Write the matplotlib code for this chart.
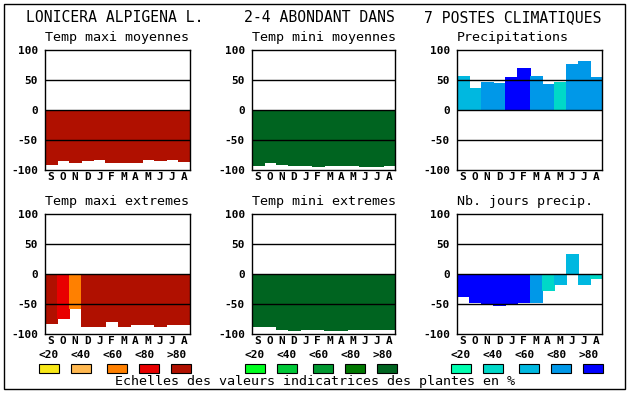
import matplotlib as mpl
mpl.use('Agg')
import matplotlib.pyplot as plt
from matplotlib.patches import Rectangle

W, H = 630, 394

mois = ['S', 'O', 'N', 'D', 'J', 'F', 'M', 'A', 'M', 'J', 'J', 'A']
classes = ['<20', '<40', '<60', '<80', '>80']

# valeurs (negatif = barre sous zero)
tmax_moy = [-90, -84, -86, -84, -81, -86, -87, -87, -81, -84, -82, -85]
tmin_moy = [-92, -87, -90, -92, -92, -93, -92, -92, -92, -93, -93, -92]
precip = [57, 37, 47, 45, 55, 70, 57, 43, 47, 77, 82, 55]
tmax_ext = [-82, -74, -56, -86, -87, -78, -86, -84, -84, -86, -84, -84]
tmin_ext = [-87, -87, -92, -94, -92, -92, -94, -94, -92, -91, -92, -92]
jours_precip = [-37, -46, -50, -52, -50, -46, -46, -27, -16, 34, -17, -7]

# classe de chaque barre (0 : <20 ... 4 : >80)
tmax_moy_cls = [4, 4, 4, 4, 4, 4, 4, 4, 4, 4, 4, 4]
tmin_moy_cls = [4, 4, 4, 4, 4, 4, 4, 4, 4, 4, 4, 4]
precip_cls = [2, 2, 3, 3, 4, 4, 3, 3, 1, 3, 3, 3]
tmax_ext_cls = [4, 3, 2, 4, 4, 4, 4, 4, 4, 4, 4, 4]
tmin_ext_cls = [4, 4, 4, 4, 4, 4, 4, 4, 4, 4, 4, 4]
jours_precip_cls = [4, 4, 4, 4, 4, 4, 3, 1, 2, 2, 2, 1]

rouges = ['#f8e818', '#ffb850', '#ff8000', '#e80000', '#b01000']
verts = ['#00ff20', '#00c838', '#009830', '#007800', '#006420']
bleus = ['#00ffb0', '#00d8c8', '#00b8e0', '#0098e8', '#0000ff']

mono = 'DejaVu Sans Mono'


def fx(x):
    return x / W


def fy(y):
    return 1 - y / H


fig = plt.figure(figsize=(W / 100, H / 100), dpi=100)
fig.patch.set_facecolor('white')

# cadre exterieur
fig.add_artist(Rectangle((fx(4), fy(389)), fx(625) - fx(4), fy(4) - fy(389),
                         transform=fig.transFigure, fill=False,
                         edgecolor='black', linewidth=1))

panneaux = [
    ('Temp maxi moyennes', tmax_moy, tmax_moy_cls, rouges, 45, 190, 50),
    ('Temp mini moyennes', tmin_moy, tmin_moy_cls, verts, 252, 395, 50),
    ('Precipitations', precip, precip_cls, bleus, 457, 602, 50),
    ('Temp maxi extremes', tmax_ext, tmax_ext_cls, rouges, 45, 190, 214),
    ('Temp mini extremes', tmin_ext, tmin_ext_cls, verts, 252, 395, 214),
    ('Nb. jours precip.', jours_precip, jours_precip_cls, bleus, 457, 602, 214),
]

for titre, vals, cls, palette, x0, x1, y0 in panneaux:
    ax = fig.add_axes([fx(x0), fy(y0 + 120), fx(x1) - fx(x0), fy(y0) - fy(y0 + 120)])
    couleurs = [palette[c] for c in cls]
    ax.bar(range(12), vals, width=1.0, color=couleurs, edgecolor=couleurs,
           linewidth=0.6, antialiased=False, zorder=1)
    for g in [-50, 0, 50]:
        ax.axhline(g, color='black', linewidth=1.0, zorder=3)
    ax.set_xlim(-0.5, 11.5)
    ax.set_ylim(-100, 100)
    ax.set_yticks([-100, -50, 0, 50, 100])
    ax.set_yticklabels(['-100', '-50', '0', '50', '100'], fontfamily=mono,
                       fontweight='bold', fontsize=8)
    ax.set_xticks(range(12))
    ax.set_xticklabels(mois, fontfamily=mono, fontweight='bold', fontsize=8)
    ax.tick_params(axis='y', length=0, pad=5)
    ax.tick_params(axis='x', length=0, pad=1.5)
    for s in ax.spines.values():
        s.set_linewidth(1.0)
        s.set_zorder(4)
    fig.text(fx(x0), fy(y0 - 12), titre, fontfamily=mono, fontsize=9.6,
             ha='left', va='center')

# titres du haut
fig.text(fx(26), fy(18), 'LONICERA ALPIGENA L.', fontfamily=mono,
         fontsize=10.6, ha='left', va='center')
fig.text(fx(395), fy(18), '2-4 ABONDANT DANS', fontfamily=mono,
         fontsize=10.6, ha='right', va='center')
fig.text(fx(602), fy(18), '7 POSTES CLIMATIQUES', fontfamily=mono,
         fontsize=10.6, ha='right', va='center')

# legendes des classes
decal = [0, 32, 68, 100, 132]
for base, palette in [(39, rouges), (245, verts), (451, bleus)]:
    for i in range(5):
        fig.text(fx(base + 10 + 32 * i), fy(355), classes[i], fontfamily=mono,
                 fontweight='bold', fontsize=8, ha='center', va='center')
        fig.add_artist(Rectangle((fx(base + decal[i]), fy(373)),
                                 fx(20), fy(364) - fy(373),
                                 transform=fig.transFigure,
                                 facecolor=palette[i], edgecolor='black',
                                 linewidth=0.8))

fig.text(fx(315), fy(382), 'Echelles des valeurs indicatrices des plantes en %',
         fontfamily=mono, fontsize=9.6, ha='center', va='center')

fig.savefig('out.png', dpi=100)
